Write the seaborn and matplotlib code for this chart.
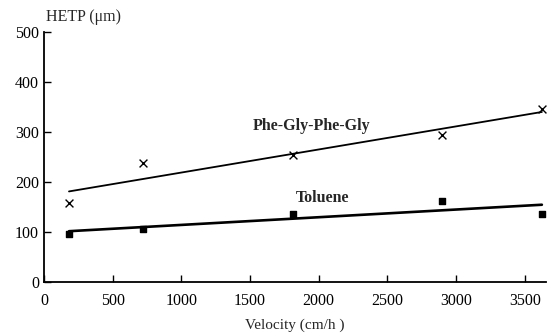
import matplotlib
matplotlib.use("Agg")
import matplotlib.pyplot as plt
import seaborn as sns
import pandas as pd

sns.set_style("ticks")
plt.rcParams['font.family'] = ['Liberation Serif', 'DejaVu Serif']

velocity = [182, 720, 1812, 2897, 3625]
phe_gly = [158, 238, 254, 294, 346]
toluene = [96, 106, 136, 162, 136]
x_ticks = [0, 500, 1000, 1500, 2000, 2500, 3000, 3500]
y_ticks = [0, 100, 200, 300, 400, 500]

df = pd.DataFrame({"v": velocity, "phe": phe_gly, "tol": toluene})

fig = plt.figure(figsize=(5.47, 3.33), dpi=100)
ax = fig.add_axes([44/547, 51/333, 502/547, 250/333])

sns.regplot(data=df, x="v", y="phe", ax=ax, ci=None, truncate=True,
            marker="x", color="black",
            scatter_kws={"s": 32, "linewidths": 1.0, "alpha": 1},
            line_kws={"lw": 1.3})
sns.regplot(data=df, x="v", y="tol", ax=ax, ci=None, truncate=True,
            marker="s", color="black",
            scatter_kws={"s": 24, "alpha": 1},
            line_kws={"lw": 1.9})

ax.set_xlim(0, 3655)
ax.set_ylim(0, 500)
ax.set_xticks(x_ticks)
ax.set_yticks(y_ticks)
ax.tick_params(direction="in", length=5, width=1, labelsize=11.5, colors="black")
ax.tick_params(axis="x", pad=8)
for s in ["left", "bottom"]:
    ax.spines[s].set_linewidth(1.3)
    ax.spines[s].set_color("black")
sns.despine(ax=ax)

ax.set_xlabel("Velocity (cm/h )", fontsize=11, labelpad=7)
ax.set_ylabel("")
fig.text(46/547, 1 - 17/333, "HETP (μm)", fontsize=11.5, va="center", ha="left")

ax.text(1521, 312, "Phe-Gly-Phe-Gly", fontsize=11.5, fontweight="bold", va="center")
ax.text(1834, 168, "Toluene", fontsize=11.5, fontweight="bold", va="center")

fig.savefig("out.png", dpi=100)
